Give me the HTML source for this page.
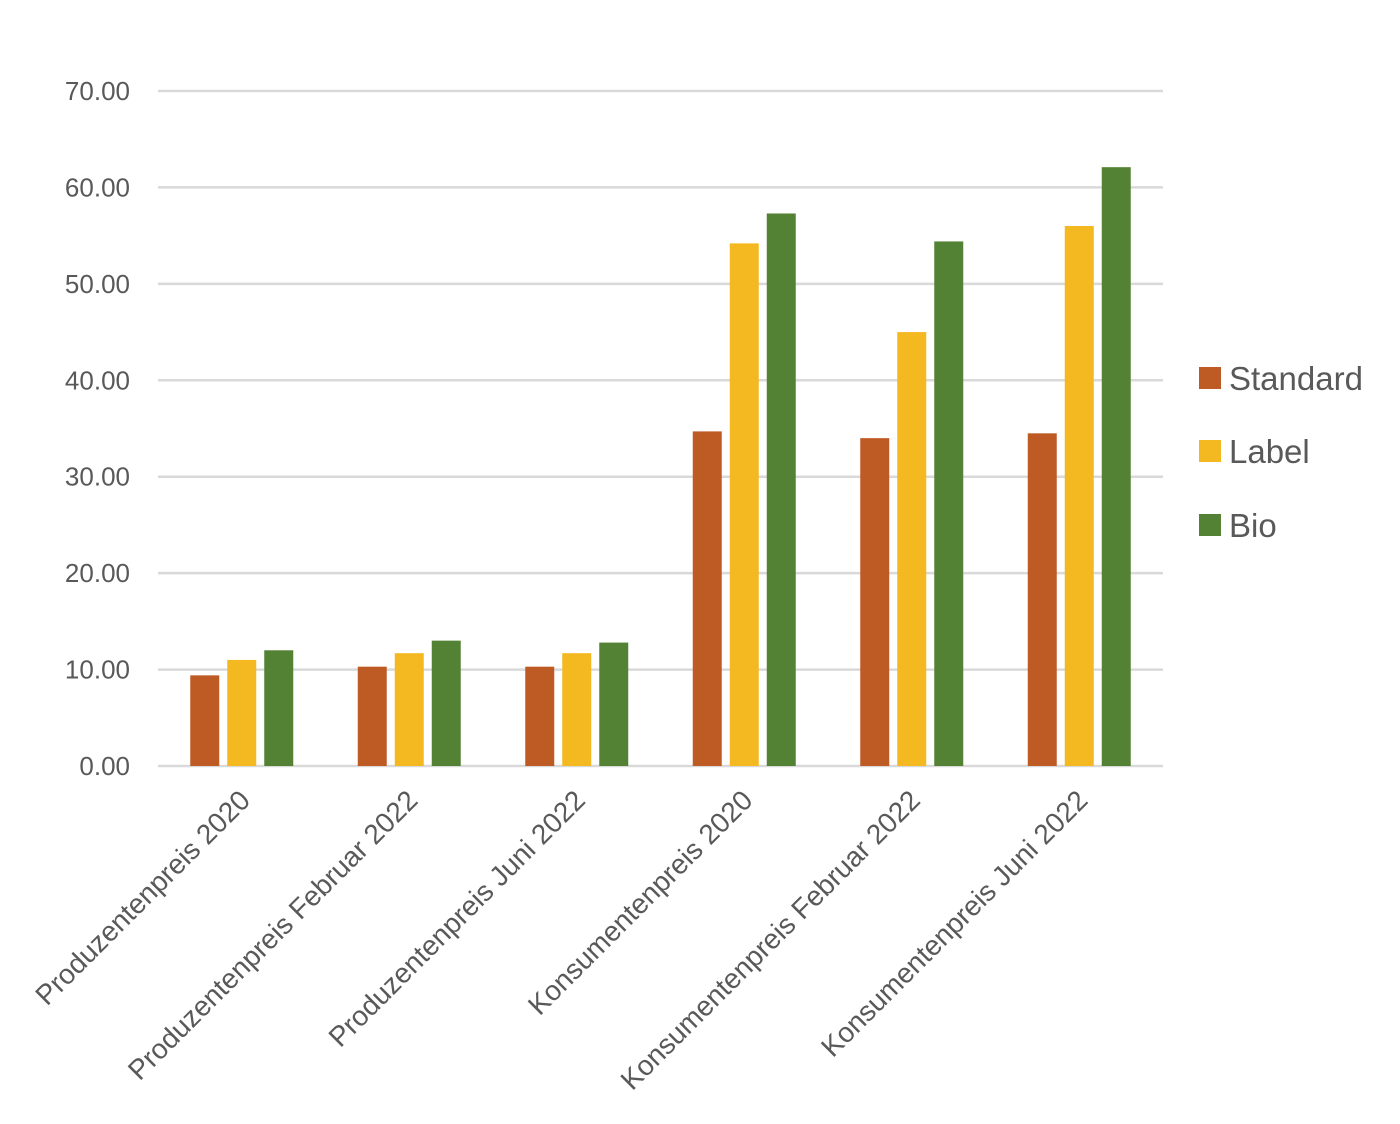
<!DOCTYPE html>
<html><head><meta charset="utf-8"><style>
html,body{margin:0;padding:0;background:#fff;}
svg{display:block;font-family:"Liberation Sans",sans-serif;}
</style></head><body>
<svg id="chart" width="1400" height="1124" viewBox="0 0 1400 1124" xmlns="http://www.w3.org/2000/svg">
<g id="grid"></g>
<g id="yaxis"></g>
<g id="bars"></g>
<g id="xaxis"></g>
<g id="legend"></g>
</svg>
<script>
const categories = ["Produzentenpreis 2020","Produzentenpreis Februar 2022","Produzentenpreis Juni 2022","Konsumentenpreis 2020","Konsumentenpreis Februar 2022","Konsumentenpreis Juni 2022"];
const seriesNames = ["Standard","Label","Bio"];
const standard = [9.4, 10.3, 10.3, 34.7, 34.0, 34.5];
const label = [11.0, 11.7, 11.7, 54.2, 45.0, 56.0];
const bio = [12.0, 13.0, 12.8, 57.3, 54.4, 62.1];
const yTicks = [0,10,20,30,40,50,60,70];
const yTickLabels = ["0.00","10.00","20.00","30.00","40.00","50.00","60.00","70.00"];

const NS="http://www.w3.org/2000/svg";
const colors=["#BE5A24","#F4B920","#548235"];
const series=[standard,label,bio];
const plotL=158, plotR=1163, y0=766, yTop=91, yMax=70;
function yScale(v){return y0-(v/yMax)*(y0-yTop);}
const band=(plotR-plotL)/categories.length;
function xCenter(i){return plotL+band*(i+0.5);}
const barW=29, step=37;
function mk(tag,attrs,parent){const e=document.createElementNS(NS,tag);for(const k in attrs)e.setAttribute(k,attrs[k]);parent.appendChild(e);return e;}

const grid=document.getElementById('grid'), yaxis=document.getElementById('yaxis');
yTicks.forEach((t,i)=>{
  const y=yScale(t);
  const l=mk('line',{x1:plotL,x2:plotR,y1:y,y2:y,stroke:'#d9d9d9','stroke-width':2.5},grid);
  
  
  const tx=mk('text',{x:130,y:y+9,'text-anchor':'end','font-size':26,fill:'#595959'},yaxis);
  tx.textContent=yTickLabels[i];
  
  
});

const bars=document.getElementById('bars');
categories.forEach((c,i)=>{
  series.forEach((s,j)=>{
    const x=xCenter(i)+(j-1)*step-barW/2;
    const y=yScale(s[i]);
    const r=mk('rect',{x:x,y:y,width:barW,height:y0-y,fill:colors[j]},bars);
    
    
  });
});

const xaxis=document.getElementById('xaxis');
categories.forEach((c,i)=>{
  const ax=xCenter(i)+10, ay=802;
  const t=mk('text',{x:ax,y:ay,'text-anchor':'end','font-size':28,fill:'#595959',transform:'rotate(-45 '+ax+' '+ay+')'},xaxis);
  t.textContent=c;
  
  
});

const legend=document.getElementById('legend');
const ly=[378,451,525];
seriesNames.forEach((n,j)=>{
  const r=mk('rect',{x:1199,y:ly[j]-11,width:22,height:22,fill:colors[j]},legend);
  
  
  const t=mk('text',{x:1229,y:ly[j]+12,'font-size':33,fill:'#595959'},legend);
  t.textContent=n;
  
  
});
</script>
</body></html>
